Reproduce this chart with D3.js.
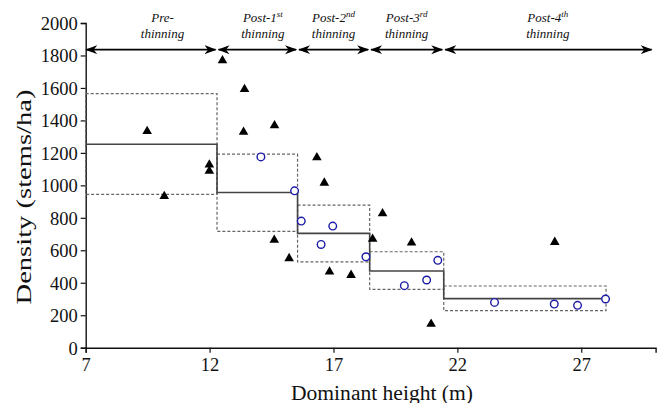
<!DOCTYPE html>
<html>
<head>
<meta charset="utf-8">
<script src="https://cdn.jsdelivr.net/npm/d3@7"></script>
<style>
  html, body { margin: 0; padding: 0; background: #fff; }
  svg { display: block; }
  svg text { font-family: "Liberation Serif", "Times New Roman", serif !important; fill: #111; }
</style>
</head>
<body>
<svg id="chart" width="661" height="403"></svg>
<script>
// ---------- data ----------
const phaseBreaks   = [7, 12.3, 15.55, 18.46, 21.45, 28];
const meanDensity   = [1253, 956, 704, 472, 302];
const upperDensity  = [1565, 1192, 878, 591, 380];
const lowerDensity  = [944, 716, 529, 359, 228];

const obsHeight  = [9.48, 10.17, 11.99, 11.99, 12.52, 13.41, 13.37, 14.62, 14.61, 15.21, 16.33, 16.63, 16.84, 17.71, 18.58, 18.98, 20.15, 20.94, 25.93];
const obsDensity = [1333, 933, 1127, 1088, 1769, 1592, 1329, 1369, 663, 550, 1172, 1015, 468, 447, 669, 827, 646, 146, 650];

const predHeight  = [14.07, 15.43, 15.70, 16.50, 16.97, 18.31, 19.86, 20.76, 21.21, 23.50, 25.91, 26.85, 27.98];
const predDensity = [1175, 966, 780, 636, 749, 560, 382, 417, 538, 279, 269, 261, 300];

const phaseLine1   = ["Pre-", "Post-1", "Post-2", "Post-3", "Post-4"];
const phaseSup     = ["", "st", "nd", "rd", "th"];
const phaseLine2   = ["thinning", "thinning", "thinning", "thinning", "thinning"];
const phaseLabelX  = [10.1, 14.15, 17.0, 19.95, 25.65];
const arrowEnds    = [7, 12.3, 15.55, 18.46, 21.45, 29.9];
const arrowLevel   = 1836;

const xTicks = [7, 12, 17, 22, 27];
const yTicks = [0, 200, 400, 600, 800, 1000, 1200, 1400, 1600, 1800, 2000];

// ---------- scales ----------
const serif = '"Liberation Serif", "Times New Roman", serif';
const svg = d3.select("#chart");
const x = d3.scaleLinear().domain([7, 30]).range([85.7, 655.6]);
const y = d3.scaleLinear().domain([0, 2000]).range([347.7, 23]);

// ---------- axes ----------
const xAxis = d3.axisBottom(x).tickValues(xTicks).tickFormat(d3.format("d")).tickSizeOuter(0).tickSize(5).tickPadding(5);
const yAxis = d3.axisLeft(y).tickValues(yTicks).tickFormat(d3.format("d")).tickSizeOuter(0).tickSize(5).tickPadding(3);

const gx = svg.append("g").attr("transform", `translate(0,${y(0)})`).call(xAxis);
const gy = svg.append("g").attr("transform", `translate(${x(7)},0)`).call(yAxis);
[gx, gy].forEach(g => {
  g.attr("font-family", serif).attr("font-size", 18.5);
  g.select(".domain").attr("stroke", "#111").attr("stroke-width", 1.4);
  g.selectAll(".tick line").attr("stroke", "#111").attr("stroke-width", 1.2);
  g.selectAll(".tick text").style("font-family", serif).style("font-size", "18.5px").attr("fill", "#222");
});
gy.selectAll(".tick text").attr("dy", "0.35em");

// axis titles
svg.append("text")
  .attr("x", 382).attr("y", 400)
  .attr("text-anchor", "middle")
  .style("font-size", "20.5px")
  .attr("textLength", 182).attr("lengthAdjust", "spacingAndGlyphs")
  .text("Dominant height (m)");

svg.append("text")
  .attr("transform", `translate(31,197) rotate(-90)`)
  .attr("text-anchor", "middle")
  .style("font-size", "22px")
  .attr("textLength", 215).attr("lengthAdjust", "spacingAndGlyphs")
  .text("Density (stems/ha)");

// ---------- confidence boxes (dashed) ----------
const seg = d3.range(meanDensity.length);
svg.append("g").selectAll("rect")
  .data(seg).join("rect")
  .attr("x", i => x(phaseBreaks[i]))
  .attr("width", i => x(phaseBreaks[i + 1]) - x(phaseBreaks[i]))
  .attr("y", i => y(upperDensity[i]))
  .attr("height", i => y(lowerDensity[i]) - y(upperDensity[i]))
  .attr("fill", "none")
  .attr("stroke", "#666")
  .attr("stroke-width", 1.2)
  .attr("stroke-dasharray", "3,2");

// ---------- mean step line ----------
const stepPts = [];
seg.forEach(i => {
  stepPts.push([phaseBreaks[i], meanDensity[i]]);
  stepPts.push([phaseBreaks[i + 1], meanDensity[i]]);
});
svg.append("path")
  .datum(stepPts)
  .attr("fill", "none")
  .attr("stroke", "#444")
  .attr("stroke-width", 1.6)
  .attr("d", d3.line().x(d => x(d[0])).y(d => y(d[1])));

// ---------- observed (triangles) ----------
svg.append("g").selectAll("path")
  .data(obsHeight.map((h, i) => [h, obsDensity[i]])).join("path")
  .attr("transform", d => `translate(${x(d[0])},${y(d[1])})`)
  .attr("d", d3.symbol().type(d3.symbolTriangle).size(40))
  .attr("fill", "#000");

// ---------- predicted (open circles) ----------
svg.append("g").selectAll("circle")
  .data(predHeight.map((h, i) => [h, predDensity[i]])).join("circle")
  .attr("cx", d => x(d[0])).attr("cy", d => y(d[1]))
  .attr("r", 3.8)
  .attr("fill", "#fff")
  .attr("stroke", "#1c1ca8")
  .attr("stroke-width", 1.4);

// ---------- phase arrows ----------
const defs = svg.append("defs");
defs.append("marker")
  .attr("id", "ah").attr("viewBox", "0 -5 12 10")
  .attr("refX", 11).attr("refY", 0)
  .attr("markerWidth", 12).attr("markerHeight", 10)
  .attr("markerUnits", "userSpaceOnUse")
  .attr("orient", "auto-start-reverse")
  .append("path").attr("d", "M0,-4.5 L12,0 L0,4.5 L3.5,0 Z").attr("fill", "#000");

svg.append("g").selectAll("line")
  .data(seg).join("line")
  .attr("x1", i => x(arrowEnds[i]) + (i === 0 ? 0.5 : 1.5))
  .attr("x2", i => x(arrowEnds[i + 1]) - 1.5)
  .attr("y1", y(arrowLevel)).attr("y2", y(arrowLevel))
  .attr("stroke", "#000").attr("stroke-width", 1.8)
  .attr("marker-start", "url(#ah)").attr("marker-end", "url(#ah)");

// ---------- phase labels ----------
const lab = svg.append("g").selectAll("g").data(seg).join("g");
const t1 = lab.append("text")
  .attr("x", i => x(phaseLabelX[i])).attr("y", 22)
  .attr("text-anchor", "middle")
  .style("font-style", "italic").style("font-size", "13px");
t1.append("tspan").text(i => phaseLine1[i]);
t1.append("tspan").style("font-size", "9px").attr("dy", -5).text(i => phaseSup[i]);
lab.append("text")
  .attr("x", i => x(phaseLabelX[i])).attr("y", 38)
  .attr("text-anchor", "middle")
  .style("font-style", "italic").style("font-size", "13px")
  .text(i => phaseLine2[i]);
</script>
</body>
</html>
